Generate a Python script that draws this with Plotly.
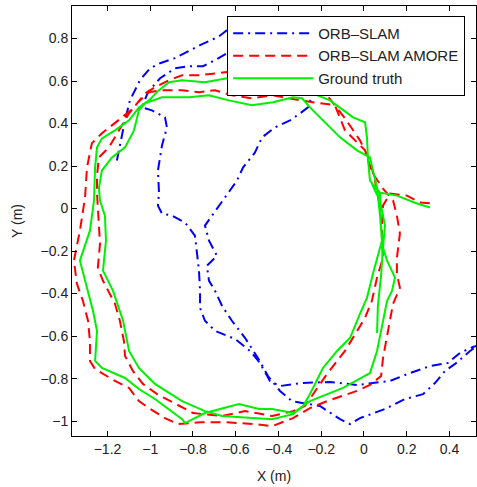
import plotly.graph_objects as go

# ---- data (metres) ----
orb_x = [-1.156, -1.142, -1.118, -1.095, -1.048, -1.001, -0.954, -0.884, -0.823, -0.767, -0.683, -0.646, -0.599,
         -0.393, -0.215, -0.262, -0.299, -0.346, -0.416, -0.477, -0.510, -0.566, -0.594, -0.650, -0.697, -0.744,
         -0.725, -0.688, -0.735, -0.725, -0.697, -0.664, -0.618, -0.557, -0.496, -0.449, -0.393, -0.337, -0.206,
         -0.112, -0.065, -0.019, 0.098, 0.192, 0.276, 0.332, 0.379, 0.426, 0.496, 0.566, 0.636,
         0.566, 0.510, 0.449, 0.393, 0.309, 0.215, 0.122, -0.033, -0.159, -0.299, -0.393, -0.440, -0.487, -0.533,
         -0.604, -0.697, -0.744, -0.767, -0.767, -0.772, -0.781, -0.791, -0.837, -0.898, -0.945, -0.964, -0.959,
         -0.964, -0.945, -0.922, -0.931, -0.992, -1.039, -1.011, -0.954, -0.884, -0.814, -0.753, -0.697, -0.641, -0.487]
orb_y = [0.226, 0.297, 0.415, 0.509, 0.604, 0.660, 0.684, 0.708, 0.741, 0.769, 0.807, 0.835, 0.887,
         0.745, 0.613, 0.476, 0.448, 0.415, 0.382, 0.335, 0.264, 0.193, 0.132, 0.052, -0.019, -0.080,
         -0.151, -0.222, -0.269, -0.340, -0.387, -0.458, -0.528, -0.608, -0.703, -0.788, -0.858, -0.906, -0.929,
         -0.991, -1.014, -0.986, -0.943, -0.896, -0.873, -0.821, -0.764, -0.731, -0.670, -0.623, -0.575,
         -0.632, -0.651, -0.679, -0.726, -0.741, -0.774, -0.811, -0.830, -0.816, -0.821, -0.835, -0.811, -0.726, -0.670,
         -0.613, -0.575, -0.528, -0.467, -0.387, -0.292, -0.212, -0.127, -0.066, -0.033, -0.024, 0.014, 0.075,
         0.179, 0.297, 0.382, 0.429, 0.462, 0.476, 0.547, 0.613, 0.660, 0.670, 0.670, 0.698, 0.731, 0.769]

amore_x = [0.075, 0.051, 0.028, -0.019, -0.089, -0.173, -0.253, -0.393, -0.580, -0.641, -0.772, -0.851, -0.912,
           -0.978, -1.025, -1.076, -1.132, -1.226, -1.273, -1.296, -1.305, -1.329, -1.357, -1.343, -1.315, -1.291,
           -1.282, -1.282, -1.258, -1.165, -1.099, -1.053, -1.006, -0.931, -0.870, -0.767, -0.650, -0.510, -0.430,
           -0.332, -0.253, -0.173, -0.033, 0.028, 0.080, 0.089, 0.108, 0.122, 0.136, 0.168, 0.154, 0.154, 0.168,
           0.154, 0.136, 0.089, 0.037, 0.005, -0.089, -0.136, -0.299, -0.426, -0.524, -0.618, -0.697, -0.772,
           -0.851, -0.945, -1.006, -1.062, -1.099, -1.146, -1.193, -1.240, -1.249, -1.249, -1.245, -1.235, -1.245,
           -1.221, -1.165, -1.142, -1.123, -1.118, -1.081, -1.034, -0.968, -0.861, -0.800, -0.664, -0.557, -0.430,
           -0.332, -0.276, -0.239, -0.173, -0.089, 0.005, 0.037, 0.061, 0.089, 0.084, 0.084, 0.089, 0.122, 0.201,
           0.262, 0.318]
amore_y = [0.014, 0.132, 0.226, 0.321, 0.425, 0.533, 0.575, 0.604, 0.637, 0.642, 0.627, 0.627, 0.604,
           0.571, 0.542, 0.476, 0.429, 0.354, 0.307, 0.193, 0.052, -0.104, -0.245, -0.354, -0.434, -0.528,
           -0.623, -0.717, -0.755, -0.811, -0.844, -0.906, -0.939, -0.986, -1.014, -1.005, -1.005, -1.014, -1.024,
           -0.986, -0.939, -0.906, -0.858, -0.830, -0.788, -0.703, -0.599, -0.514, -0.448, -0.373, -0.307, -0.231, -0.118,
           -0.033, 0.038, 0.094, 0.170, 0.274, 0.368, 0.486, 0.509, 0.533, 0.519, 0.533, 0.557, 0.547,
           0.557, 0.557, 0.547, 0.495, 0.448, 0.368, 0.288, 0.241, 0.156, 0.071, -0.009, -0.165, -0.278,
           -0.340, -0.448, -0.528, -0.623, -0.693, -0.764, -0.825, -0.873, -0.929, -0.962, -0.976, -0.953, -0.976,
           -0.953, -0.929, -0.873, -0.778, -0.670, -0.514, -0.434, -0.325, -0.231, -0.151, -0.071, 0.014, 0.071, 0.061,
           0.028, 0.024]

gt_x = [0.061, 0.065, 0.080, 0.089, 0.075, 0.065, 0.061, 0.042, 0.028, -0.033, -0.112, -0.192, -0.253, -0.290,
        -0.332, -0.426, -0.524, -0.632, -0.725, -0.819, -0.945, -1.025, -1.053, -1.076, -1.118, -1.179, -1.226,
        -1.240, -1.235, -1.212, -1.207, -1.221, -1.174, -1.127, -1.099, -1.053, -0.978, -0.851, -0.744, -0.664,
        -0.510, -0.430, -0.332, -0.285, -0.253, -0.192, -0.126, -0.065, -0.019, 0.014, 0.042, 0.084, 0.075, 0.075,
        0.028, 0.019, 0.014, 0.005, -0.051, -0.159, -0.253, -0.309, -0.440, -0.641, -0.744, -0.851, -0.912, -0.959,
        -1.006, -1.053, -1.099, -1.165, -1.226, -1.249, -1.258, -1.263, -1.282, -1.329, -1.268, -1.249, -1.258,
        -1.226, -1.118, -1.053, -0.978, -0.851, -0.837, -0.744, -0.585, -0.491, -0.430, -0.332, -0.285, -0.253,
        -0.098, 0.028, 0.061, 0.089, 0.108, 0.131, 0.145, 0.108, 0.089, 0.098, 0.075, 0.051, 0.037, 0.075, 0.154,
        0.248, 0.309]
gt_y = [-0.585, -0.458, -0.316, -0.175, -0.033, 0.061, 0.099, 0.179, 0.241, 0.274, 0.335, 0.415, 0.476, 0.519,
        0.524, 0.500, 0.486, 0.509, 0.533, 0.524, 0.524, 0.495, 0.462, 0.368, 0.288, 0.241, 0.179,
        0.099, 0.038, -0.033, -0.151, -0.292, -0.387, -0.528, -0.670, -0.750, -0.825, -0.906, -0.953, -0.976,
        -0.986, -0.991, -0.967, -0.929, -0.873, -0.750, -0.670, -0.608, -0.495, -0.420, -0.307, -0.151, -0.033, 0.071,
        0.132, 0.226, 0.335, 0.406, 0.429, 0.509, 0.547, 0.580, 0.594, 0.613, 0.594, 0.604, 0.594, 0.557,
        0.509, 0.476, 0.415, 0.368, 0.330, 0.288, 0.193, 0.038, -0.104, -0.245, -0.481, -0.575, -0.717,
        -0.750, -0.797, -0.849, -0.896, -0.991, -1.009, -0.962, -0.920, -0.943, -0.943, -0.962, -0.929, -0.906,
        -0.844, -0.774, -0.670, -0.528, -0.434, -0.387, -0.325, -0.245, -0.184, -0.080, 0.038, 0.085, 0.118, 0.075, 0.061,
        0.024, 0.005]

x_ticks = [-1.2, -1.0, -0.8, -0.6, -0.4, -0.2, 0.0, 0.2, 0.4]
y_ticks = [-1.0, -0.8, -0.6, -0.4, -0.2, 0.0, 0.2, 0.4, 0.6, 0.8]

FONT = "Liberation Sans, Arial, sans-serif"

fig = go.Figure()
fig.add_trace(go.Scatter(x=orb_x, y=orb_y, mode="lines", name="ORB–SLAM",
                         line=dict(color="#0000ff", width=2, dash="10px,5px,2px,5px")))
fig.add_trace(go.Scatter(x=amore_x, y=amore_y, mode="lines", name="ORB–SLAM AMORE",
                         line=dict(color="#ff0000", width=2, dash="10px,6px")))
fig.add_trace(go.Scatter(x=gt_x, y=gt_y, mode="lines", name="Ground truth",
                         line=dict(color="#00f000", width=2)))

axis_common = dict(showgrid=False, zeroline=False, showline=True, linecolor="black", linewidth=1,
                   mirror="ticks", ticks="inside", ticklen=5, tickcolor="black", automargin=False,
                   tickfont=dict(family=FONT, size=14, color="#222"))

fig.update_layout(
    width=477, height=487,
    margin=dict(l=72, r=1, t=6, b=51, autoexpand=False),
    paper_bgcolor="white", plot_bgcolor="white",
    font=dict(family=FONT, size=14, color="#222"),
    xaxis=dict(range=[-1.366, 0.524], tickvals=x_ticks,
               title=dict(text="X (m)", font=dict(family=FONT, size=14, color="#222"), standoff=15),
               **axis_common),
    yaxis=dict(range=[-1.07, 0.953], tickvals=y_ticks,
               title=dict(text="Y (m)", font=dict(family=FONT, size=14, color="#222"), standoff=14),
               **axis_common),
    legend=dict(x=0.384, y=0.977, xanchor="left", yanchor="top",
                bgcolor="white", bordercolor="black", borderwidth=1,
                font=dict(family=FONT, size=15, color="#222"),
                itemwidth=80, tracegroupgap=0),
    showlegend=True,
)

fig.write_html("out.html",
               config={"displayModeBar": False},
               post_script="document.body.style.margin='0';document.body.style.overflow='hidden';")
